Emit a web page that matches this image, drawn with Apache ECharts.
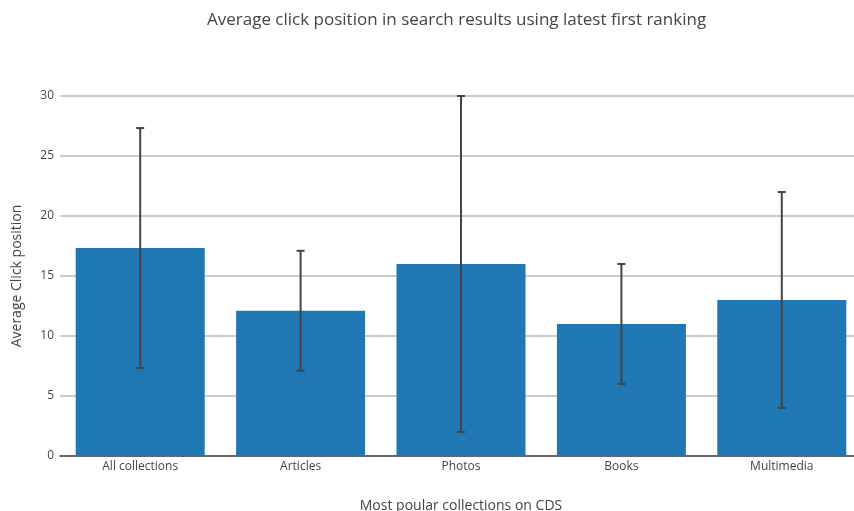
<!DOCTYPE html>
<html>
<head>
<meta charset="utf-8">
<script src="https://cdn.jsdelivr.net/npm/echarts@6/dist/echarts.min.js"></script>
<style>
  html, body { margin: 0; padding: 0; background: #fff; }
  #chart { width: 854px; height: 511px; }
</style>
</head>
<body>
<div id="chart"></div>
<script>
const categories = ['All collections', 'Articles', 'Photos', 'Books', 'Multimedia']
const avgPosition = [17.33, 12.1, 16, 11, 13]
const errorSize = [10, 5, 14, 5, 9]
const yTicks = [0, 5, 10, 15, 20, 25, 30]

const textColor = '#444'
const fontFamily = '"Open Sans", sans-serif'

let errorData = []
for (let i = 0; i < categories.length; i++) {
    errorData.push([i, avgPosition[i] - errorSize[i], avgPosition[i] + errorSize[i]])
}

function renderErrorBar(params, api) {
    let x = api.value(0)
    let low = api.coord([x, api.value(1)])
    let high = api.coord([x, api.value(2)])
    let half = 4
    let style = { stroke: '#444', lineWidth: 2 }
    return {
        type: 'group',
        children: [
            { type: 'line', shape: { x1: low[0], y1: low[1], x2: high[0], y2: high[1] }, style: style },
            { type: 'line', shape: { x1: low[0] - half, y1: low[1], x2: low[0] + half, y2: low[1] }, style: style },
            { type: 'line', shape: { x1: high[0] - half, y1: high[1], x2: high[0] + half, y2: high[1] }, style: style }
        ]
    }
}

let myChart = echarts.init(document.getElementById('chart'))
myChart.setOption({
    animation: false,
    title: {
        text: 'Average click position in search results using latest first ranking',
        left: 202,
        top: 7,
        textStyle: { color: textColor, fontSize: 17, fontWeight: 'normal', fontFamily: fontFamily }
    },
    grid: {
        left: 60,
        right: -8,
        top: 96,
        bottom: 55,
        outerBoundsMode: 'none',
        containLabel: false
    },
    xAxis: {
        type: 'category',
        data: categories,
        name: 'Most poular collections on CDS',
        nameLocation: 'middle',
        nameGap: 43,
        nameTextStyle: { color: textColor, fontSize: 14, fontFamily: fontFamily },
        axisLine: { lineStyle: { color: '#444', width: 1.5 } },
        axisTick: { show: false },
        axisLabel: { color: textColor, fontSize: 12, fontFamily: fontFamily, margin: 5 }
    },
    yAxis: {
        type: 'value',
        min: yTicks[0],
        max: yTicks[yTicks.length - 1],
        interval: 5,
        name: 'Average Click position',
        nameLocation: 'middle',
        nameGap: 36,
        nameTextStyle: { color: textColor, fontSize: 14, fontFamily: fontFamily },
        axisLine: { show: false },
        axisTick: { show: false },
        axisLabel: { color: textColor, fontSize: 12, fontFamily: fontFamily, margin: 6 },
        splitLine: { lineStyle: { color: '#bbb', width: 1.5 } }
    },
    series: [
        {
            type: 'bar',
            data: avgPosition,
            barWidth: 129,
            itemStyle: { color: '#1f77b4' }
        },
        {
            type: 'custom',
            renderItem: renderErrorBar,
            data: errorData,
            encode: { x: 0, y: [1, 2] },
            z: 10
        }
    ]
})
</script>
</body>
</html>
